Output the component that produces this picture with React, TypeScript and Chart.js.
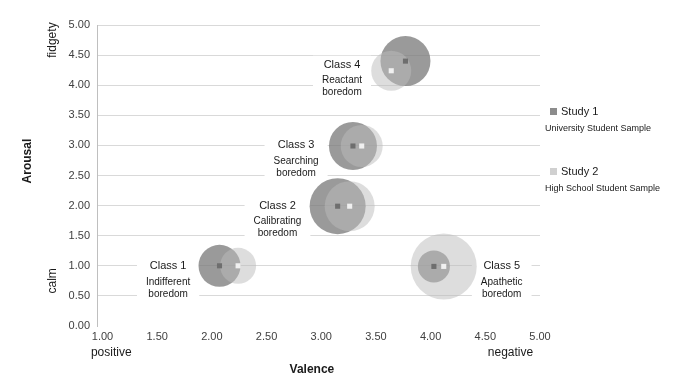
import React, { useEffect, useRef } from 'react';
import { Chart, registerables } from 'chart.js';

Chart.register(...registerables);

const FONT = '"Liberation Sans", Arial, Helvetica, sans-serif';

// ---- data ----
const classNames = ['Class 1', 'Class 2', 'Class 3', 'Class 4', 'Class 5'];
const classDescriptions = [
  ['Indifferent', 'boredom'],
  ['Calibrating', 'boredom'],
  ['Searching', 'boredom'],
  ['Reactant', 'boredom'],
  ['Apathetic', 'boredom'],
];
const study1Valence = [2.07, 3.15, 3.29, 3.77, 4.03];
const study1Arousal = [1.0, 1.99, 2.99, 4.4, 0.99];
const study1Size = [21, 28, 24, 25, 16];
const study2Valence = [2.24, 3.26, 3.37, 3.64, 4.12];
const study2Arousal = [1.0, 1.99, 2.99, 4.24, 0.99];
const study2Size = [18, 25, 21, 20, 33];
const labelValence = [1.6, 2.6, 2.77, 3.19, 4.65];
const labelArousal = [1.0, 2.0, 3.0, 4.34, 1.0];
const xTickValues = [1, 1.5, 2, 2.5, 3, 3.5, 4, 4.5, 5];
const yTickValues = [0, 0.5, 1, 1.5, 2, 2.5, 3, 3.5, 4, 4.5, 5];
const seriesNames = ['Study 1', 'Study 2'];
const seriesSubtitles = ['University Student Sample', 'High School Student Sample'];

const bubbles = (xs: number[], ys: number[], rs: number[]) =>
  xs.map((x, i) => ({ x, y: ys[i], r: rs[i] }));
const points = (xs: number[], ys: number[]) => xs.map((x, i) => ({ x, y: ys[i] }));

export default function App() {
  const ref = useRef<HTMLCanvasElement>(null);

  useEffect(() => {
    document.body.style.margin = '0';
    const canvas = ref.current;
    if (!canvas) return;

    const annotations = {
      id: 'boredomAnnotations',
      beforeDatasetsDraw(chart: any) {
        const { ctx, scales } = chart;
        const xs = scales.x;
        const ys = scales.y;
        ctx.save();
        classNames.forEach((name, i) => {
          const cx = xs.getPixelForValue(labelValence[i]);
          const cy = ys.getPixelForValue(labelArousal[i]);
          ctx.font = `11px ${FONT}`;
          let w = ctx.measureText(name).width;
          ctx.font = `10px ${FONT}`;
          classDescriptions[i].forEach((l) => {
            w = Math.max(w, ctx.measureText(l).width);
          });
          const bw = w + 18;
          ctx.fillStyle = '#ffffff';
          ctx.fillRect(cx - bw / 2, cy - 9, bw, 45);
          ctx.fillStyle = '#1a1a1a';
          ctx.textAlign = 'center';
          ctx.textBaseline = 'middle';
          ctx.font = `11px ${FONT}`;
          ctx.fillText(name, cx, cy);
          ctx.font = `10px ${FONT}`;
          classDescriptions[i].forEach((l, j) => {
            ctx.fillText(l, cx, cy + 16 + j * 12);
          });
        });
        ctx.restore();
      },
      afterDraw(chart: any) {
        const { ctx, scales, chartArea } = chart;
        const xs = scales.x;
        const ys = scales.y;
        ctx.save();
        ctx.fillStyle = '#1a1a1a';
        ctx.textAlign = 'center';
        ctx.textBaseline = 'middle';

        const vText = (t: string, x: number, y: number, font: string) => {
          ctx.save();
          ctx.translate(x, y);
          ctx.rotate(-Math.PI / 2);
          ctx.font = font;
          ctx.fillText(t, 0, 0);
          ctx.restore();
        };
        vText('fidgety', chartArea.left - 44, ys.getPixelForValue(4.75), `12px ${FONT}`);
        vText('calm', chartArea.left - 44, ys.getPixelForValue(0.75), `12px ${FONT}`);
        vText('Arousal', chartArea.left - 69, ys.getPixelForValue(2.74), `bold 12px ${FONT}`);

        ctx.font = `12px ${FONT}`;
        ctx.fillText('positive', xs.getPixelForValue(1.08), chartArea.bottom + 27);
        ctx.fillText('negative', xs.getPixelForValue(4.73), chartArea.bottom + 27);
        ctx.font = `bold 12px ${FONT}`;
        ctx.fillText('Valence', xs.getPixelForValue(2.915), chartArea.bottom + 44);

        const colors = ['#8c8c8c', '#d0d0d0'];
        const lx = chartArea.right;
        [87, 147].forEach((dy, i) => {
          const y = chartArea.top + dy;
          ctx.fillStyle = colors[i];
          ctx.fillRect(lx + 10, y - 4, 7, 7);
          ctx.fillStyle = '#1a1a1a';
          ctx.textAlign = 'left';
          ctx.font = `11px ${FONT}`;
          ctx.fillText(seriesNames[i], lx + 21, y);
          ctx.font = `9px ${FONT}`;
          ctx.fillText(seriesSubtitles[i], lx + 5, y + 17);
        });
        ctx.restore();
      },
    };

    const chart = new Chart(canvas, {
      type: 'bubble',
      data: {
        datasets: [
          {
            type: 'scatter',
            label: 'Study 1 centre',
            data: points(study1Valence, study1Arousal),
            pointStyle: 'rect',
            pointRadius: 3.6,
            backgroundColor: '#6e6e6e',
            borderWidth: 0,
            order: 0,
          } as any,
          {
            type: 'scatter',
            label: 'Study 2 centre',
            data: points(study2Valence, study2Arousal),
            pointStyle: 'rect',
            pointRadius: 3.6,
            backgroundColor: '#f0f0f0',
            borderWidth: 0,
            order: 0,
          } as any,
          {
            label: 'Study 2',
            data: bubbles(study2Valence, study2Arousal, study2Size),
            backgroundColor: 'rgba(187,187,187,0.5)',
            borderWidth: 0,
            order: 1,
          },
          {
            label: 'Study 1',
            data: bubbles(study1Valence, study1Arousal, study1Size),
            backgroundColor: 'rgba(120,120,120,0.75)',
            borderWidth: 0,
            order: 2,
          },
        ],
      },
      options: {
        animation: false,
        responsive: false,
        devicePixelRatio: 1,
        layout: {
          autoPadding: false,
          padding: { left: 0, right: 133, top: 25, bottom: 0 },
        },
        plugins: {
          legend: { display: false },
          tooltip: { enabled: false },
        },
        scales: {
          x: {
            type: 'linear',
            min: 0.95,
            max: 5,
            afterBuildTicks: (s: any) => {
              s.ticks = xTickValues.map((value) => ({ value }));
            },
            afterFit: (s: any) => {
              s.height = 52;
            },
            grid: { display: false, drawTicks: false },
            border: { display: false },
            ticks: {
              padding: 4,
              maxRotation: 0,
              autoSkip: false,
              color: '#404040',
              font: { family: FONT, size: 11 },
              callback: (v: any) => Number(v).toFixed(2),
            },
          },
          y: {
            type: 'linear',
            min: 0,
            max: 5,
            afterBuildTicks: (s: any) => {
              s.ticks = yTickValues.map((value) => ({ value }));
            },
            afterFit: (s: any) => {
              s.width = 97;
            },
            grid: {
              drawTicks: false,
              color: (c: any) => (c.tick && c.tick.value === 0 ? 'rgba(0,0,0,0)' : '#d9d9d9'),
            },
            border: { display: true, color: '#bfbfbf', width: 1 },
            ticks: {
              padding: 7,
              autoSkip: false,
              color: '#404040',
              font: { family: FONT, size: 11 },
              callback: (v: any) => Number(v).toFixed(2),
            },
          },
        },
      },
      plugins: [annotations],
    } as any);

    return () => chart.destroy();
  }, []);

  return (
    <div style={{ width: 673, height: 378 }}>
      <canvas ref={ref} width={673} height={378} style={{ display: 'block' }} />
    </div>
  );
}
